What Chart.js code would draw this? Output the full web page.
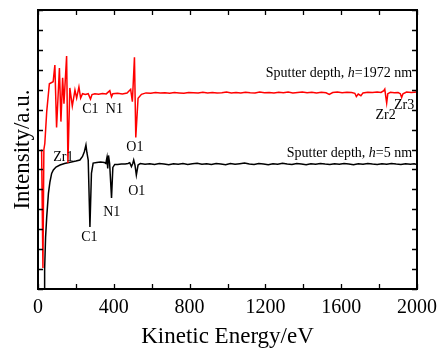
<!DOCTYPE html>
<html>
<head>
<meta charset="utf-8">
<script src="https://cdn.jsdelivr.net/npm/chart.js@4/dist/chart.umd.min.js"></script>
<style>
  body { margin: 0; background: #fff; }
  canvas { display: block; }
</style>
</head>
<body>
<canvas id="augerChart" width="444" height="351"></canvas>
<script>
// Red spectrum, sputter depth h=1972 nm (kinetic energy in eV, intensity in a.u.)
const redEnergy = [19, 26, 31, 36, 46, 60, 80, 89, 98, 113, 121, 130, 137, 151, 158, 168, 181, 195, 204, 216, 225,
  235, 250, 265, 277, 285, 300, 320, 340, 360, 379, 388, 395, 420, 445, 470, 489, 498, 509, 516, 528, 546,
  570, 595, 620, 645, 670, 695, 720, 745, 770, 795, 820, 845, 870, 895, 920, 945, 970, 995, 1020, 1045,
  1070, 1095, 1120, 1145, 1170, 1195, 1220, 1245, 1270, 1295, 1320, 1345, 1370, 1395, 1420, 1445, 1470,
  1495, 1520, 1537, 1555, 1580, 1605, 1630, 1655, 1672, 1680, 1690, 1704, 1715, 1740, 1765, 1790, 1810,
  1825, 1830, 1836, 1840, 1846, 1860, 1880, 1900, 1912, 1919, 1926, 1945, 1970, 2000];
const redIntensity = [7.0, 1.05, 7.0, 7.3, 8.9, 10.3, 10.4, 11.24, 8.1, 11.09, 8.4, 10.6, 9.3, 11.69, 6.32, 10.09, 9.18, 9.98, 9.58, 10.14, 9.58,
  9.8, 9.76, 9.8, 9.53, 9.76, 9.8, 9.77, 9.81, 9.79, 9.95, 9.65, 9.8, 9.82, 9.79, 9.83, 10.02, 9.4, 11.63, 7.6, 9.57, 9.77,
  9.84, 9.82, 9.86, 9.83, 9.85, 9.82, 9.86, 9.84, 9.82, 9.86, 9.85, 9.83, 9.87, 9.84, 9.86, 9.83, 9.85, 9.88, 9.84, 9.86,
  9.83, 9.87, 9.85, 9.84, 9.88, 9.85, 9.86, 9.83, 9.87, 9.85, 9.88, 9.84, 9.86, 9.88, 9.85, 9.87, 9.84,
  9.87, 9.85, 9.77, 9.86, 9.88, 9.85, 9.87, 9.86, 9.82, 9.66, 9.78, 9.7, 9.84, 9.87, 9.86, 9.88, 9.86,
  9.95, 10.03, 9.6, 9.33, 9.8, 9.87, 9.85, 9.86, 9.8, 9.61, 9.8, 9.88, 9.86, 9.88];

// Black spectrum, sputter depth h=5 nm
const blackEnergy = [32, 35, 40, 46, 55, 63, 72, 81, 95, 116, 140, 170, 200, 221, 235, 245, 253, 258, 265, 274, 282,
  291, 310, 330, 350, 358, 364, 368, 372, 378, 388, 395, 405, 420, 440, 460, 475, 484, 493, 500, 505, 512,
  519, 528, 540, 565, 590, 615, 640, 665, 690, 715, 740, 765, 790, 815, 840, 865, 890, 915, 940, 965, 990,
  1015, 1040, 1065, 1090, 1115, 1140, 1165, 1190, 1215, 1240, 1265, 1290, 1315, 1340, 1365, 1390, 1415,
  1440, 1465, 1490, 1515, 1540, 1565, 1590, 1615, 1640, 1665, 1690, 1715, 1740, 1765, 1790, 1815, 1840,
  1865, 1890, 1915, 1940, 1965, 1985, 2000];
const blackIntensity = [-0.4, 1.0, 2.6, 3.61, 4.8, 5.37, 5.8, 5.97, 6.12, 6.22, 6.3, 6.36, 6.42, 6.47, 6.65, 6.9, 7.23, 6.85, 6.47, 3.11, 5.8,
  6.32, 6.35, 6.37, 6.35, 6.3, 6.6, 6.05, 6.7, 6.3, 4.57, 6.1, 6.25, 6.25, 6.27, 6.27, 6.3, 6.34, 6.14, 6.3, 6.47, 6.2,
  5.72, 6.22, 6.3, 6.26, 6.29, 6.25, 6.3, 6.27, 6.24, 6.29, 6.26, 6.3, 6.25, 6.28, 6.31, 6.26, 6.29, 6.25, 6.3, 6.27, 6.24,
  6.3, 6.26, 6.29, 6.32, 6.27, 6.25, 6.3, 6.27, 6.24, 6.29, 6.26, 6.31, 6.27, 6.25, 6.3, 6.27, 6.24,
  6.29, 6.26, 6.3, 6.27, 6.25, 6.29, 6.26, 6.3, 6.27, 6.24, 6.29, 6.26, 6.3, 6.27, 6.25, 6.29, 6.26,
  6.3, 6.27, 6.25, 6.29, 6.26, 6.28, 6.25];

// x tick values (labelled every 400 eV)
const xTicks = [0, 200, 400, 600, 800, 1000, 1200, 1400, 1600, 1800, 2000];
const xTickLabels = ['0', '', '400', '', '800', '', '1200', '', '1600', '', '2000'];
const yTicks = [0, 1, 2, 3, 4, 5, 6, 7, 8, 9, 10, 11, 12, 13, 14];

// peak labels (text, energy, intensity)
const peakText = ['C1', 'N1', 'O1', 'Zr1', 'C1', 'N1', 'O1', 'Zr2', 'Zr3'];
const peakEnergy = [276, 403, 511, 134, 271, 389, 521, 1834, 1932];
const peakIntensity = [9.03, 9.03, 7.12, 6.62, 2.61, 3.86, 4.92, 8.73, 9.23];

// curve captions
const captionDepth = ['1972 nm', '5 nm'];
const captionEnergy = [1974, 1974];
const captionIntensity = [10.84, 6.82];

const serif = '"Liberation Serif", "Times New Roman", serif';

function zip(xs, ys) {
  return xs.map((x, i) => ({ x: x, y: ys[i] }));
}

// Draws the frame, inward ticks on every side and the text labels
const framePlugin = {
  id: 'frame',
  afterDatasetsDraw(chart) {
    const ctx = chart.ctx;
    const area = chart.chartArea;
    const xs = chart.scales.x;
    const ys = chart.scales.y;
    const tick = 5;

    ctx.save();
    ctx.strokeStyle = '#000';
    ctx.lineWidth = 1.3;
    ctx.beginPath();
    xTicks.forEach((v) => {
      const px = Math.round(xs.getPixelForValue(v)) + 0.5;
      ctx.moveTo(px, area.bottom);
      ctx.lineTo(px, area.bottom - tick);
      ctx.moveTo(px, area.top);
      ctx.lineTo(px, area.top + tick);
    });
    yTicks.forEach((v) => {
      const py = Math.round(ys.getPixelForValue(v)) + 0.5;
      ctx.moveTo(area.left, py);
      ctx.lineTo(area.left + tick, py);
      ctx.moveTo(area.right, py);
      ctx.lineTo(area.right - tick, py);
    });
    ctx.stroke();

    ctx.lineWidth = 2;
    ctx.strokeRect(area.left, area.top, area.right - area.left, area.bottom - area.top);

    ctx.fillStyle = '#000';
    ctx.font = '14px ' + serif;
    ctx.textAlign = 'center';
    ctx.textBaseline = 'middle';
    peakText.forEach((t, i) => {
      ctx.fillText(t, xs.getPixelForValue(peakEnergy[i]), ys.getPixelForValue(peakIntensity[i]));
    });

    // "Sputter depth, h=... " with italic h, right aligned
    ctx.textAlign = 'left';
    captionDepth.forEach((d, i) => {
      const right = xs.getPixelForValue(captionEnergy[i]);
      const py = ys.getPixelForValue(captionIntensity[i]);
      const pre = 'Sputter depth, ';
      const post = '=' + d;
      ctx.font = '14px ' + serif;
      const wPre = ctx.measureText(pre).width;
      const wPost = ctx.measureText(post).width;
      ctx.font = 'italic 14px ' + serif;
      const wH = ctx.measureText('h').width;
      let px = right - wPre - wH - wPost;
      ctx.font = '14px ' + serif;
      ctx.fillText(pre, px, py);
      px += wPre;
      ctx.font = 'italic 14px ' + serif;
      ctx.fillText('h', px, py);
      px += wH;
      ctx.font = '14px ' + serif;
      ctx.fillText(post, px, py);
    });
    ctx.restore();
  },
};

const ctx = document.getElementById('augerChart');
const augerChart = new Chart(ctx, {
  type: 'line',
  data: {
    datasets: [
      {
        label: 'h=1972 nm',
        data: zip(redEnergy, redIntensity),
        borderColor: '#ff0000',
        borderWidth: 1.5,
        pointRadius: 0,
        fill: false,
        tension: 0,
      },
      {
        label: 'h=5 nm',
        data: zip(blackEnergy, blackIntensity),
        borderColor: '#000000',
        borderWidth: 1.5,
        pointRadius: 0,
        fill: false,
        tension: 0,
      },
    ],
  },
  options: {
    responsive: false,
    animation: false,
    layout: {
      padding: { top: 10, right: 27, left: 0, bottom: 0 },
    },
    plugins: {
      legend: { display: false },
      tooltip: { enabled: false },
    },
    scales: {
      x: {
        type: 'linear',
        min: 0,
        max: 2000,
        grid: { display: false, drawTicks: false },
        border: { display: false },
        afterBuildTicks: (scale) => {
          scale.ticks = xTicks.map((v) => ({ value: v }));
        },
        afterFit: (scale) => {
          scale.height = 62;
        },
        ticks: {
          color: '#000',
          padding: 7,
          maxRotation: 0,
          autoSkip: false,
          font: { family: serif, size: 20 },
          callback: (value) => xTickLabels[xTicks.indexOf(value)],
        },
        title: {
          display: true,
          text: 'Kinetic Energy/eV',
          color: '#000',
          font: { family: serif, size: 23 },
          padding: { top: 0, bottom: 0 },
        },
      },
      y: {
        type: 'linear',
        min: 0,
        max: 14,
        grid: { display: false, drawTicks: false },
        border: { display: false },
        afterFit: (scale) => {
          scale.width = 38;
        },
        ticks: { display: false, stepSize: 1 },
        title: {
          display: true,
          text: 'Intensity/a.u.',
          color: '#000',
          font: { family: serif, size: 23 },
          padding: { top: 9, bottom: 0 },
        },
      },
    },
  },
  plugins: [framePlugin],
});
</script>
</body>
</html>
